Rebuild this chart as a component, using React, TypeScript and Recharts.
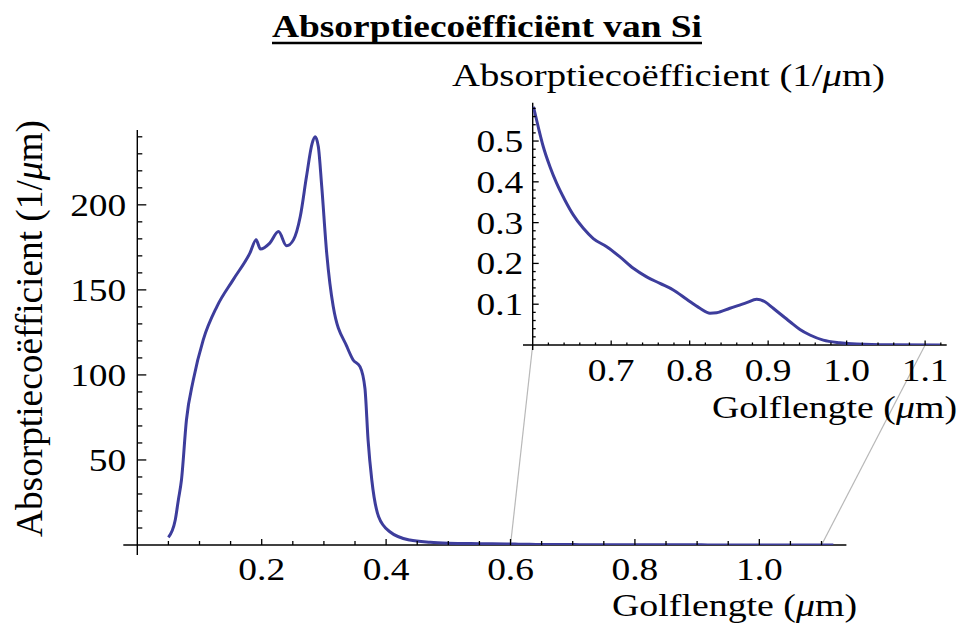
import React from 'react';
import { LineChart, Line, XAxis, YAxis, ReferenceLine } from 'recharts';

// ---- data ----
const mainWavelength = [0.05, 0.061, 0.066, 0.071, 0.079, 0.09, 0.106, 0.128, 0.154, 0.181, 0.191, 0.198, 0.213, 0.227, 0.240, 0.251, 0.262, 0.272, 0.281, 0.286, 0.291, 0.2965, 0.3045, 0.315, 0.337, 0.347, 0.358, 0.366, 0.371, 0.377, 0.388, 0.406, 0.438, 0.471, 0.5, 0.55];
const mainAbsorption = [4.5, 14.7, 26.5, 38.2, 73.5, 97, 120.6, 140.2, 155.9, 171.6, 179.4, 174, 177.5, 184.3, 175.9, 179.4, 193.1, 216.6, 236, 240, 234.3, 210.8, 171.6, 140.2, 116.6, 108.8, 104.9, 92, 61.8, 38.2, 16.6, 7.8, 2.9, 1.6, 1.1, 0.8];

const insetWavelength = [0.601, 0.607, 0.6135, 0.622, 0.6306, 0.6411, 0.6517, 0.6645, 0.6772, 0.6943, 0.7112, 0.7282, 0.7452, 0.7622, 0.7791, 0.7962, 0.8131, 0.8259, 0.8344, 0.8513, 0.8726, 0.8854, 0.8959, 0.9065, 0.9278, 0.9405, 0.9532, 0.9702, 0.9915, 1.0127, 1.055, 1.119];
const insetAbsorption = [0.584, 0.535, 0.486, 0.437, 0.396, 0.355, 0.319, 0.286, 0.261, 0.241, 0.216, 0.188, 0.167, 0.151, 0.135, 0.112, 0.09, 0.078, 0.079, 0.09, 0.104, 0.112, 0.106, 0.09, 0.057, 0.038, 0.0245, 0.012, 0.0056, 0.0025, 0.0005, 0.0];

const mainXTicks = [0.05, 0.1, 0.15, 0.2, 0.25, 0.3, 0.35, 0.4, 0.45, 0.5, 0.55, 0.6, 0.65, 0.7, 0.75, 0.8, 0.85, 0.9, 0.95, 1.0, 1.05, 1.1];
const mainXLabels = [0.2, 0.4, 0.6, 0.8, 1.0];
const mainYTicks = [10, 20, 30, 40, 50, 60, 70, 80, 90, 100, 110, 120, 130, 140, 150, 160, 170, 180, 190, 200, 210, 220, 230, 240];
const mainYLabels = [50, 100, 150, 200];

const insetXTicks = [0.62, 0.64, 0.66, 0.68, 0.7, 0.72, 0.74, 0.76, 0.78, 0.8, 0.82, 0.84, 0.86, 0.88, 0.9, 0.92, 0.94, 0.96, 0.98, 1.0, 1.02, 1.04, 1.06, 1.08, 1.1, 1.12];
const insetXLabels = [0.7, 0.8, 0.9, 1.0, 1.1];
const insetYTicks = [0.02, 0.04, 0.06, 0.08, 0.1, 0.12, 0.14, 0.16, 0.18, 0.2, 0.22, 0.24, 0.26, 0.28, 0.3, 0.32, 0.34, 0.36, 0.38, 0.4, 0.42, 0.44, 0.46, 0.48, 0.5, 0.52, 0.54, 0.56, 0.58];
const insetYLabels = [0.1, 0.2, 0.3, 0.4, 0.5];

const titleText = 'Absorptiecoëfficiënt van Si';
const yLabelText = 'Absorptiecoëfficient (1/';
const xLabelText = 'Golflengte (';

// ---- layout / style ----
const W = 964;
const H = 630;
const FONT = '"Liberation Serif", "Times New Roman", serif';
const FS = 32;
const SX = 1.17;
const CURVE = '#3d3d9c';

const MAIN = { left: 137.3, top: 130, right: 117.6, bottom: 85, xMin: 0, xMax: 1.14, yMin: 0, yMax: 244 };
const INSET = { left: 532.7, top: 102.7, right: 17.3, bottom: 285, xMin: 0.6, xMax: 1.1275, yMin: 0, yMax: 0.594 };

const mainData = [
  ...mainWavelength.map((w, i) => ({ wl: w, a: mainAbsorption[i] })),
  ...insetWavelength.map((w, i) => ({ wl: w, a: insetAbsorption[i] })),
];
const insetData = insetWavelength.map((w, i) => ({ wl: w, a: insetAbsorption[i] }));

const near = (arr: number[], v: number) => arr.some((m) => Math.abs(m - v) < 1e-6);

function makeXTick(majors: number[], majorLen: number, minorLen: number, dy: number) {
  return (props: any) => {
    const { x, y, payload } = props;
    const v = payload.value as number;
    const major = near(majors, v);
    return (
      <g>
        <line x1={x} y1={y} x2={x} y2={y - (major ? majorLen : minorLen)} stroke="#000" strokeWidth={1.3} />
        {major && (
          <text transform={`translate(${x},${y + dy}) scale(${SX},1)`} textAnchor="middle" fontFamily={FONT} fontSize={FS} fill="#000">
            {v.toFixed(1)}
          </text>
        )}
      </g>
    );
  };
}

function makeYTick(majors: number[], majorLen: number, minorLen: number, gap: number, fmt: (v: number) => string) {
  return (props: any) => {
    const { x, y, payload } = props;
    const v = payload.value as number;
    const major = near(majors, v);
    return (
      <g>
        <line x1={x} y1={y} x2={x + (major ? majorLen : minorLen)} y2={y} stroke="#000" strokeWidth={1.3} />
        {major && (
          <text transform={`translate(${x - gap},${y + 11}) scale(${SX},1)`} textAnchor="end" fontFamily={FONT} fontSize={FS} fill="#000">
            {fmt(v)}
          </text>
        )}
      </g>
    );
  };
}

// pixel -> main data coordinates (for the zoom connector lines)
const mainPlotW = W - MAIN.left - MAIN.right;
const mainPlotH = H - MAIN.top - MAIN.bottom;
const insetPlotW = W - INSET.left - INSET.right;
const insetPlotH = H - INSET.top - INSET.bottom;
const insetPx = (v: number) => INSET.left + ((v - INSET.xMin) / (INSET.xMax - INSET.xMin)) * insetPlotW;
const insetPy = (v: number) => INSET.top + insetPlotH - ((v - INSET.yMin) / (INSET.yMax - INSET.yMin)) * insetPlotH;
const toMainX = (px: number) => MAIN.xMin + ((px - MAIN.left) / mainPlotW) * (MAIN.xMax - MAIN.xMin);
const toMainY = (py: number) => MAIN.yMin + ((MAIN.top + mainPlotH - py) / mainPlotH) * (MAIN.yMax - MAIN.yMin);

const zoomFrom = [0.6, 1.1];

export default function App() {
  const mainXTick = makeXTick(mainXLabels, 6, 4, 35);
  const mainYTick = makeYTick(mainYLabels, 9, 5, 11, (v) => String(v));
  const insetXTick = makeXTick(insetXLabels, 4.5, 2.5, 36);
  const insetYTick = makeYTick(insetYLabels, 6, 3, 9.4, (v) => v.toFixed(1));

  const connectors = zoomFrom.map((v) => ({
    from: { x: v, y: 0 },
    to: { x: toMainX(insetPx(v)), y: toMainY(insetPy(0)) },
  }));

  return (
    <div style={{ position: 'absolute', left: 0, top: 0, width: W, height: H, background: '#fff' }}>
      <div style={{ position: 'absolute', left: 0, top: 0 }}>
        <LineChart width={W} height={H} data={mainData} margin={{ left: MAIN.left - 1, top: MAIN.top, right: MAIN.right, bottom: MAIN.bottom - 1 }}>
          <XAxis
            dataKey="wl"
            type="number"
            domain={[MAIN.xMin, MAIN.xMax]}
            ticks={mainXTicks}
            interval={0}
            height={1}
            tickSize={0}
            tickMargin={0}
            tickLine={false}
            axisLine={false}
            tick={mainXTick}
            allowDataOverflow
          />
          <YAxis
            type="number"
            domain={[MAIN.yMin, MAIN.yMax]}
            ticks={mainYTicks}
            interval={0}
            width={1}
            tickSize={0}
            tickMargin={0}
            tickLine={false}
            axisLine={false}
            tick={mainYTick}
            allowDataOverflow
          />
          {connectors.map((c, i) => (
            <ReferenceLine key={'c' + i} segment={[c.from, c.to]} ifOverflow="visible" stroke="#b8b8b8" strokeWidth={1.2} />
          ))}
          <ReferenceLine segment={[{ x: -0.0225, y: 0 }, { x: MAIN.xMax, y: 0 }]} ifOverflow="visible" stroke="#000" strokeWidth={1.4} />
          <ReferenceLine segment={[{ x: 0, y: -5.9 }, { x: 0, y: MAIN.yMax }]} ifOverflow="visible" stroke="#000" strokeWidth={1.4} />
          <Line dataKey="a" type="monotone" stroke={CURVE} strokeWidth={3} dot={false} isAnimationActive={false} />
        </LineChart>
      </div>
      <div style={{ position: 'absolute', left: 0, top: 0 }}>
        <LineChart width={W} height={H} data={insetData} margin={{ left: INSET.left - 1, top: INSET.top, right: INSET.right, bottom: INSET.bottom - 1 }}>
          <XAxis
            dataKey="wl"
            type="number"
            domain={[INSET.xMin, INSET.xMax]}
            ticks={insetXTicks}
            interval={0}
            height={1}
            tickSize={0}
            tickMargin={0}
            tickLine={false}
            axisLine={false}
            tick={insetXTick}
            allowDataOverflow
          />
          <YAxis
            type="number"
            domain={[INSET.yMin, INSET.yMax]}
            ticks={insetYTicks}
            interval={0}
            width={1}
            tickSize={0}
            tickMargin={0}
            tickLine={false}
            axisLine={false}
            tick={insetYTick}
            allowDataOverflow
          />
          <ReferenceLine segment={[{ x: 0.5876, y: 0 }, { x: INSET.xMax, y: 0 }]} ifOverflow="visible" stroke="#000" strokeWidth={1.4} />
          <ReferenceLine segment={[{ x: INSET.xMin, y: -0.012 }, { x: INSET.xMin, y: INSET.yMax }]} ifOverflow="visible" stroke="#000" strokeWidth={1.4} />
          <Line dataKey="a" type="monotone" stroke={CURVE} strokeWidth={3} dot={false} isAnimationActive={false} />
        </LineChart>
      </div>
      <svg width={W} height={H} style={{ position: 'absolute', left: 0, top: 0, pointerEvents: 'none' }}>
        <text x={487} y={37} textAnchor="middle" fontFamily={FONT} fontWeight="bold" fontSize={FS} textLength={430} lengthAdjust="spacingAndGlyphs" fill="#000">
          {titleText}
        </text>
        <line x1={272} y1={43} x2={702} y2={43} stroke="#000" strokeWidth={2.5} />
        <text x={42} y={328.5} transform="rotate(-90 42 328.5)" textAnchor="middle" fontFamily={FONT} fontSize={37} textLength={417} lengthAdjust="spacingAndGlyphs" fill="#000">
          {yLabelText}
          <tspan fontStyle="italic">μ</tspan>m)
        </text>
        <text x={612} y={616} fontFamily={FONT} fontSize={FS} textLength={245} lengthAdjust="spacingAndGlyphs" fill="#000">
          {xLabelText}
          <tspan fontStyle="italic">μ</tspan>m)
        </text>
        <text x={452} y={86} fontFamily={FONT} fontSize={FS} textLength={433} lengthAdjust="spacingAndGlyphs" fill="#000">
          {yLabelText}
          <tspan fontStyle="italic">μ</tspan>m)
        </text>
        <text x={712} y={418} fontFamily={FONT} fontSize={FS} textLength={245} lengthAdjust="spacingAndGlyphs" fill="#000">
          {xLabelText}
          <tspan fontStyle="italic">μ</tspan>m)
        </text>
      </svg>
    </div>
  );
}
